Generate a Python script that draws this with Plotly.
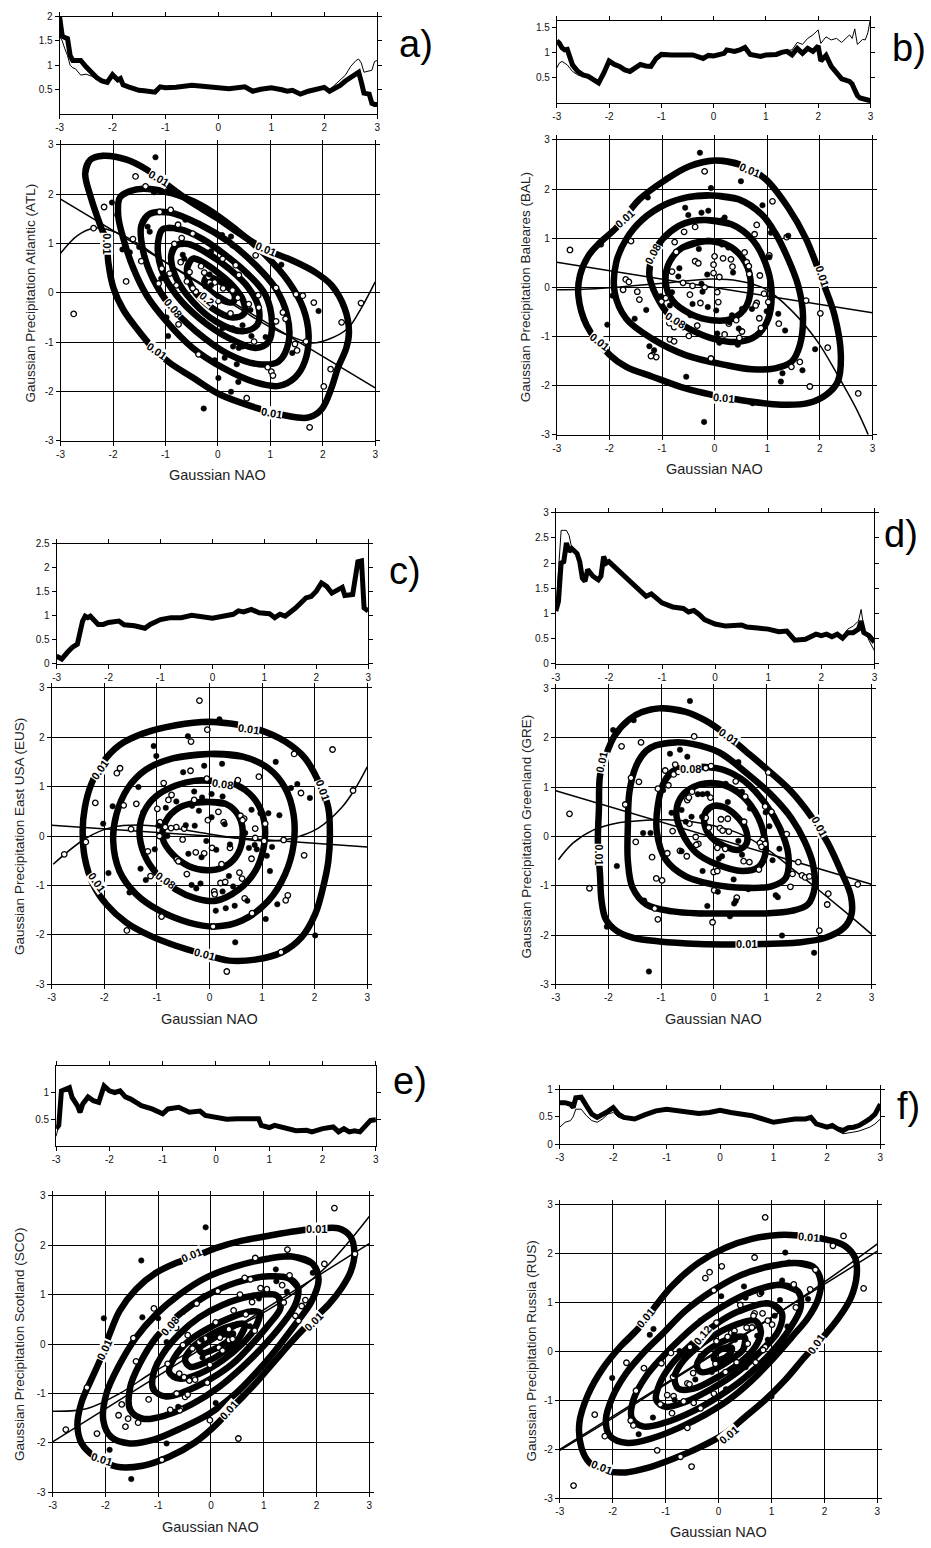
import plotly.graph_objects as go

FONT = "Liberation Sans, Arial, sans-serif"
W, H = 931, 1548

NAO_TICKS = [-3, -2, -1, 0, 1, 2, 3]
NAO_TEXT = ["-3", "-2", "-1", "0", "1", "2", "3"]

# ---------------- panel a (ATL) ----------------
A_TOP_X = [-3,-2.95,-2.9,-2.85,-2.8,-2.75,-2.7,-2.6,-2.5,-2.4,-2.3,-2.2,-2.1,-2.0,-1.9,-1.85,-1.8,-1.7,-1.6,-1.5,
           -1.4,-1.3,-1.2,-1.1,-1.0,-0.8,-0.5,-0.3,0,0.2,0.5,0.65,0.8,1.0,1.2,1.3,1.4,1.55,1.7,1.85,
           2.0,2.1,2.2,2.3,2.4,2.5,2.6,2.65,2.7,2.75,2.85,2.9,2.95,3.0]
A_TOP_THICK = [2.0,1.6,1.57,1.55,1.2,1.1,1.1,1.1,0.97,0.85,0.75,0.68,0.65,0.81,0.70,0.73,0.60,0.56,0.52,0.49,
               0.48,0.47,0.45,0.56,0.54,0.55,0.59,0.57,0.53,0.52,0.56,0.47,0.51,0.54,0.50,0.47,0.49,0.41,0.47,0.50,
               0.55,0.47,0.52,0.59,0.68,0.76,0.83,0.86,0.66,0.43,0.41,0.22,0.20,0.20]
A_TOP_THIN = [1.6,1.5,1.34,1.2,1.0,0.95,0.93,0.80,0.82,0.78,0.72,0.66,0.64,0.80,0.70,0.72,0.60,0.56,0.52,0.49,
              0.48,0.47,0.45,0.56,0.54,0.55,0.59,0.57,0.53,0.52,0.56,0.47,0.51,0.54,0.50,0.47,0.49,0.41,0.47,0.50,
              0.57,0.50,0.60,0.70,0.80,0.98,1.10,1.13,1.05,0.86,0.88,0.90,1.08,1.10]
A_OPEN = [(-1.57,2.36),(-1.38,2.16),(-2.17,1.74),(-2.37,1.31),(-1.11,1.64),(-0.90,1.68),(-0.76,1.38),(-0.48,1.20),
          (-0.69,1.11),(-1.62,1.09),(-1.46,0.64),(-1.75,0.23),(-2.75,-0.43),(-0.83,0.99),(-0.71,0.62),(-0.54,0.42),
          (-0.59,0.23),(-0.32,0.54),(-0.26,0.41),(-0.18,0.32),(-0.06,0.21),(0.10,0.09),(0.28,0.05),(0.01,-0.17),
          (0.24,-0.42),(0.38,-0.10),(0.59,-0.23),(0.78,-0.30),(0.77,-0.05),(1.11,0.10),(1.24,-0.40),(1.29,-0.53),
          (1.49,-0.03),(1.62,-0.06),(1.83,-0.20),(2.73,-0.21),(2.36,-0.60),(1.47,-1.04),(1.51,-1.17),(1.68,-0.99),
          (0.95,-1.51),(1.02,-1.60),(1.05,-1.68),(2.15,-1.55),(2.02,-1.90),(1.75,-2.73),(0.55,-2.14),(-0.37,-1.25),
          (-0.75,-0.64),(0.69,-0.99),(1.11,-0.58),(-1.07,0.49),(-1.13,0.19),(-0.92,0.39),(-0.79,0.15),(-0.42,0.02),
          (-0.29,-0.05),(-0.48,0.09),(0.34,0.56),(0.40,0.36),(0.09,0.69),(0.72,0.76)]
A_FILL = [(-1.19,2.75),(-1.22,2.04),(-2.02,1.83),(-1.92,1.58),(-0.62,1.48),(-1.34,1.34),(-1.30,1.24),(0.25,1.14),
          (0.08,1.17),(-1.50,0.93),(-1.82,0.88),(-1.68,0.82),(-0.67,0.77),(-0.64,0.69),(-0.16,0.37),(0.14,0.22),
          (0.09,-0.72),(0.28,-0.72),(0.62,-0.35),(1.21,0.57),(1.92,-0.37),(1.42,-1.22),(0.25,-2.01),(0.39,-1.81),
          (0.36,-1.45),(0.13,-1.32),(-0.06,-1.37),(0.01,-1.73),(-0.27,-2.35),(-0.95,-0.88),(-0.98,-0.50),
          (-0.29,-0.57),(0.40,-1.12),(0.47,-1.09),(0.29,-1.09),(0.64,-0.88),(0.91,-0.90),(0.47,-0.66),
          (-1.08,0.29),(-0.13,0.15),(0.56,0.38),(0.28,0.96),(-0.13,0.84)]
A_CONTOURS = [
    [(-2.43,2.70),(-2.53,2.43),(-2.43,1.96),(-2.24,1.36),(-2.12,1.03),(-2.09,0.62),(-1.99,0.09),(-1.80,-0.35),
     (-1.55,-0.72),(-1.24,-1.12),(-0.92,-1.42),(-0.48,-1.72),(0.03,-2.06),(0.72,-2.33),(1.29,-2.49),(1.73,-2.53),
     (1.98,-2.36),(2.17,-1.92),(2.29,-1.52),(2.45,-1.12),(2.50,-0.78),(2.42,-0.32),(2.17,0.15),(1.85,0.42),
     (1.41,0.66),(0.91,0.88),(0.47,1.16),(-0.04,1.53),(-0.54,1.86),(-0.98,2.20),(-1.36,2.50),(-1.74,2.70),(-2.18,2.78)],
    [(-1.42,2.11),(-1.68,2.06),(-1.87,1.93),(-1.90,1.56),(-1.80,1.09),(-1.61,0.49),(-1.36,-0.05),(-0.98,-0.58),
     (-0.48,-1.12),(0.09,-1.52),(0.72,-1.82),(1.16,-1.89),(1.47,-1.72),(1.66,-1.39),(1.73,-0.85),(1.63,-0.32),
     (1.35,0.22),(0.91,0.76),(0.34,1.29),(-0.29,1.76),(-0.92,2.03)],
    [(-1.30,1.60),(-1.46,1.36),(-1.42,0.82),(-1.24,0.29),(-0.92,-0.25),(-0.42,-0.78),(0.21,-1.25),(0.78,-1.45),
     (1.16,-1.39),(1.35,-0.99),(1.32,-0.45),(1.10,0.09),(0.72,0.56),(0.21,1.03),(-0.35,1.39),(-0.92,1.63)],
    [(-1.05,1.29),(-1.14,1.03),(-1.08,0.49),(-0.79,-0.05),(-0.35,-0.52),(0.21,-0.92),(0.72,-1.12),(0.97,-0.99),
     (1.03,-0.58),(0.91,-0.05),(0.59,0.36),(0.15,0.76),(-0.29,1.09),(-0.73,1.29)],
    [(-0.79,0.96),(-0.89,0.76),(-0.79,0.29),(-0.48,-0.18),(-0.04,-0.58),(0.47,-0.78),(0.75,-0.65),(0.78,-0.32),
     (0.59,0.09),(0.21,0.49),(-0.23,0.82),(-0.57,0.99)],
    [(-0.48,0.69),(-0.59,0.49),(-0.48,0.09),(-0.10,-0.32),(0.28,-0.50),(0.50,-0.42),(0.48,-0.15),(0.28,0.15),
     (-0.10,0.49),(-0.32,0.64)],
    [(-0.21,0.32),(-0.26,0.19),(-0.13,0.02),(0.09,-0.15),(0.29,-0.19),(0.32,-0.05),(0.16,0.14),(-0.04,0.27)],
]
A_LABELS = [(-1.14,2.32,"0.01",30),(0.91,0.88,"0.01",22),(-2.13,1.0,"0.01",90),(-1.17,-1.19,"0.01",35),
            (1.03,-2.43,"0.01",10),(-0.85,-0.30,"0.08",50),(-0.21,-0.13,"0.2",40)]
A_REG = [(-3,1.90),(3,-1.93)]
A_CUBIC = [(-3,0.80),(-2.68,1.16),(-2.37,1.31),(-2.12,1.29),(-1.80,1.16),(-1.5,0.98),(-1,0.62),(-0.5,0.28),
           (0,-0.05),(0.5,-0.38),(1,-0.70),(1.5,-0.93),(1.8,-1.02),(2.1,-0.95),(2.48,-0.72),(2.73,-0.32),(3,0.22)]

# ---------------- panel b (BAL) ----------------
B_TOP_X = [-3,-2.95,-2.9,-2.85,-2.8,-2.7,-2.6,-2.5,-2.4,-2.3,-2.2,-2.1,-2.0,-1.9,-1.8,-1.7,-1.6,-1.5,-1.4,-1.3,
           -1.2,-1.1,-1.0,-0.8,-0.6,-0.4,-0.2,-0.1,0,0.2,0.25,0.4,0.5,0.6,0.7,0.9,1.0,1.2,1.3,1.4,
           1.5,1.6,1.7,1.8,1.9,2.0,2.05,2.15,2.25,2.35,2.45,2.6,2.65,2.7,2.75,2.8,2.85,2.9,2.95,3.0]
B_TOP_THICK = [1.24,1.19,1.10,1.06,1.07,0.76,0.63,0.56,0.53,0.46,0.40,0.60,0.84,0.77,0.73,0.66,0.63,0.70,0.77,0.74,
               0.73,0.89,0.97,0.96,0.97,0.96,0.89,0.95,0.94,0.99,1.06,1.03,1.06,1.11,0.97,0.93,0.96,0.97,1.01,1.03,
               0.96,1.09,0.99,1.09,1.03,1.14,0.84,0.95,0.73,0.60,0.48,0.43,0.38,0.26,0.15,0.10,0.08,0.08,0.06,0.05]
B_TOP_THIN = [0.70,0.80,0.83,0.80,0.76,0.63,0.56,0.53,0.50,0.45,0.40,0.60,0.84,0.77,0.73,0.66,0.63,0.70,0.77,0.74,
              0.73,0.89,0.97,0.96,0.97,0.96,0.89,0.95,0.94,0.99,1.06,1.03,1.06,1.11,0.97,0.93,0.96,0.98,1.02,1.05,
              1.06,1.21,1.17,1.29,1.36,1.46,1.19,1.32,1.26,1.29,1.21,1.36,1.29,1.48,1.17,1.22,1.27,1.26,1.40,1.68]
B_OPEN = [(-0.19,2.36),(1.10,1.75),(-0.37,1.23),(-0.58,1.13),(0.80,1.27),(0.76,1.08),(1.37,1.02),(-1.59,0.94),
          (-2.75,0.76),(-0.76,0.92),(0.57,0.71),(-0.73,0.72),(-0.37,0.53),(-0.31,0.49),(0.00,0.63),(0.16,0.59),
          (0.31,0.57),(1.04,0.65),(0.61,0.51),(0.65,0.43),(0.34,0.42),(-0.02,0.46),(-0.02,0.29),(0.09,0.21),
          (0.66,0.27),(0.86,0.24),(-1.69,0.16),(-1.63,0.11),(-0.60,0.09),(-0.81,0.32),(-0.42,0.03),(-0.19,0.00),
          (-0.47,-0.15),(0.05,-0.10),(-1.47,-0.09),(-1.43,-0.25),(-1.74,-0.05),(-1.01,-0.29),(-0.93,-0.22),
          (0.07,-0.30),(-0.27,-0.32),(0.94,-0.13),(1.02,-0.30),(0.80,-0.32),(0.78,-0.37),(1.74,-0.27),(2.01,-0.53),
          (-0.33,-0.78),(-0.86,-0.73),(-0.77,-0.81),(-0.61,-0.81),(0.27,-0.74),(0.41,-0.67),(0.85,-0.63),
          (0.88,-0.83),(1.22,-0.74),(0.52,-0.90),(0.19,-0.96),(0.47,-1.03),(-0.49,-0.99),(-0.85,-1.06),
          (-0.77,-1.10),(-1.18,-1.38),(-1.11,-1.42),(-1.21,-1.40),(-0.07,-1.45),(2.15,-1.23),(1.46,-1.62),
          (1.62,-1.52),(1.81,-2.02),(2.73,-2.16)]
B_FILL = [(-0.28,2.74),(0.50,2.16),(-0.07,2.02),(-1.27,1.83),(0.91,1.67),(-0.56,1.62),(-0.12,1.56),(-0.25,1.52),
          (-0.50,1.47),(0.19,1.42),(0.15,1.37),(1.07,1.11),(1.40,1.05),(-2.16,0.87),(0.14,0.87),(0.26,0.81),
          (-0.30,0.78),(1.04,0.61),(0.35,0.30),(-0.67,0.39),(-0.14,0.26),(-0.69,0.22),(-0.25,0.07),(-0.23,-0.09),
          (-1.94,-0.17),(-1.02,-0.18),(-0.81,-0.10),(0.03,-0.47),(-0.42,-0.34),(-0.13,-0.40),(0.99,-0.49),
          (1.21,-0.54),(0.52,-0.44),(0.71,-0.44),(-1.30,-0.46),(-0.85,-0.37),(-1.52,-0.64),(-2.04,-0.76),
          (-0.46,-0.57),(0.28,-0.71),(0.33,-0.57),(1.34,-0.88),(0.46,-0.84),(0.05,-0.94),(0.09,-1.13),(0.44,-1.17),
          (-1.24,-1.20),(-1.15,-1.28),(-0.54,-1.82),(1.91,-1.26),(1.67,-1.69),(1.29,-1.75),(1.26,-1.92),
          (0.72,-2.36),(-0.20,-2.74)]
B_CONTOURS = [
    [(0.00,2.58),(0.51,2.49),(0.96,2.21),(1.40,1.62),(1.74,0.98),(2.06,0.10),(2.28,-0.57),(2.40,-1.38),
     (2.34,-1.92),(2.12,-2.19),(1.77,-2.36),(1.27,-2.39),(0.46,-2.29),(-0.05,-2.19),(-0.55,-2.06),(-1.18,-1.82),
     (-1.68,-1.62),(-1.99,-1.38),(-2.43,-0.78),(-2.59,-0.17),(-2.56,0.24),(-2.40,0.64),(-2.18,0.91),(-1.87,1.21),
     (-1.43,1.79),(-0.93,2.19),(-0.49,2.46)],
    [(-0.05,1.87),(0.46,1.79),(0.90,1.48),(1.15,1.11),(1.40,0.57),(1.59,0.03),(1.68,-0.57),(1.62,-1.18),
     (1.46,-1.52),(1.15,-1.65),(0.71,-1.67),(0.20,-1.58),(-0.55,-1.38),(-1.18,-1.05),(-1.68,-0.64),(-1.90,-0.10),
     (-1.87,0.51),(-1.68,0.98),(-1.37,1.38),(-0.93,1.69),(-0.49,1.84)],
    [(-0.17,1.37),(0.33,1.28),(0.71,0.98),(0.96,0.51),(1.08,-0.03),(1.02,-0.64),(0.80,-0.98),(0.46,-1.11),
     (0.02,-1.06),(-0.49,-0.84),(-0.86,-0.57),(-1.11,-0.17),(-1.24,0.24),(-1.18,0.64),(-0.99,0.98),(-0.68,1.25),
     (-0.42,1.35)],
    [(-0.17,0.94),(0.20,0.88),(0.52,0.61),(0.68,0.17),(0.61,-0.37),(0.33,-0.64),(-0.05,-0.67),(-0.46,-0.54),
     (-0.80,-0.27),(-0.93,0.10),(-0.86,0.51),(-0.61,0.81)],
]
B_LABELS = [(0.66,2.38,"0.01",22),(-1.72,1.40,"0.01",-42),(2.04,0.22,"0.01",72),(-2.18,-1.11,"0.01",38),
            (0.17,-2.25,"0.01",5),(-1.18,0.68,"0.08",-62),(-0.75,-0.66,"0.08",32)]
B_REG = [(-3,0.51),(3,-0.52)]
B_CUBIC = [(-3,-0.05),(-2.5,-0.04),(-2.0,-0.01),(-1.55,0.03),(-0.93,0.09),(-0.05,0.17),(0.46,0.13),(0.96,-0.03),
           (1.46,-0.47),(1.96,-1.11),(2.34,-1.79),(2.72,-2.53),(2.92,-3.0)]

# ---------------- panel c (EUS) ----------------
C_TOP_X = [-3,-2.9,-2.8,-2.7,-2.6,-2.5,-2.45,-2.4,-2.35,-2.2,-2.1,-2.0,-1.8,-1.7,-1.5,-1.3,-1.2,-1.0,-0.8,-0.6,
           -0.4,-0.2,0,0.2,0.4,0.5,0.6,0.75,0.9,1.1,1.2,1.3,1.4,1.6,1.8,1.9,2.0,2.1,2.2,2.3,
           2.4,2.5,2.55,2.7,2.8,2.87,2.92,3.0]
C_TOP_THICK = [0.16,0.10,0.23,0.34,0.41,0.89,0.99,0.96,0.99,0.82,0.82,0.86,0.89,0.81,0.79,0.74,0.82,0.92,0.96,0.96,
               1.01,0.97,0.95,0.99,1.03,1.10,1.08,1.13,1.06,1.04,0.96,1.03,0.99,1.16,1.37,1.40,1.51,1.68,1.61,1.47,
               1.54,1.59,1.42,1.44,2.12,2.14,1.16,1.10]
C_TOP_THIN = [0.20,0.12,0.23,0.34,0.41,0.89,0.99,0.96,0.99,0.82,0.82,0.86,0.89,0.81,0.79,0.74,0.82,0.92,0.96,0.96,
              1.01,0.97,0.95,0.99,1.03,1.10,1.08,1.13,1.06,1.04,0.96,1.03,0.99,1.16,1.37,1.40,1.51,1.68,1.61,1.47,
              1.54,1.59,1.42,1.44,2.12,2.14,1.16,1.10]
C_OPEN = [(-0.19,2.74),(-0.04,2.15),(-0.35,1.91),(1.61,1.66),(2.34,1.75),(-1.70,1.37),(-1.76,1.27),(-0.36,1.32),
          (-0.05,1.16),(0.54,1.13),(-0.87,1.07),(0.94,1.20),(1.74,0.87),(2.73,0.92),(-2.17,0.67),(-1.63,0.62),
          (-1.39,0.65),(-0.72,0.83),(-0.78,0.73),(-0.99,0.55),(-0.29,0.73),(0.17,0.49),(0.59,0.41),(0.66,0.35),
          (0.63,0.32),(-0.03,0.32),(0.27,0.28),(-1.49,0.14),(-0.94,0.28),(-0.84,0.18),(-0.63,0.18),(-0.48,0.15),
          (-0.73,0.16),(-0.95,0.00),(-0.51,-0.07),(0.87,0.15),(1.06,0.25),(0.87,-0.04),(1.04,-0.10),(0.39,-0.24),
          (1.41,-0.08),(-2.35,-0.12),(-2.76,-0.37),(-1.17,-0.31),(-0.26,-0.33),(-0.10,-0.35),(0.05,-0.24),
          (-0.62,-0.47),(-0.59,-0.51),(0.23,-0.57),(0.57,-0.74),(0.62,-0.86),(0.80,-0.46),(1.80,-0.39),
          (-1.12,-0.81),(-0.43,-0.77),(0.21,-0.95),(0.30,-0.93),(0.09,-1.12),(0.10,-1.18),(0.67,-1.26),
          (0.81,-1.56),(1.49,-1.20),(1.45,-1.30),(-0.91,-1.63),(-1.57,-1.91),(0.07,-1.83),(1.36,-2.35),(0.33,-2.74)]
C_FILL = [(0.19,2.36),(-0.41,2.02),(-1.06,1.82),(-1.01,1.62),(1.26,1.50),(0.24,1.46),(-0.10,1.42),(-0.50,1.29),
          (-1.35,0.99),(1.55,0.97),(1.67,1.05),(1.91,0.77),(-1.84,0.60),(-0.29,0.90),(-0.14,0.78),(-0.63,0.70),
          (-0.83,0.57),(-0.33,0.61),(0.04,0.85),(0.25,0.80),(-0.20,0.51),(0.80,0.53),(1.12,0.46),(1.33,0.42),
          (0.04,0.38),(-2.02,0.25),(-1.26,0.48),(-0.97,0.21),(-0.45,0.22),(-0.28,0.21),(-0.80,0.00),(-0.06,-0.10),
          (0.29,0.24),(0.68,0.06),(0.97,0.46),(0.86,-0.18),(0.75,-0.24),(0.39,-0.17),(1.19,-0.22),(-1.04,-0.27),
          (-0.40,-0.36),(0.13,-0.28),(-0.15,-0.43),(0.40,-0.54),(0.37,-0.81),(1.09,-0.40),(0.90,-0.27),
          (1.15,-0.71),(-1.92,-0.75),(-1.31,-0.66),(-1.21,-0.89),(-0.34,-0.99),(-0.17,-0.96),(0.45,-1.02),
          (0.25,-1.12),(-0.25,-1.06),(0.72,-1.31),(0.12,-1.51),(0.31,-1.46),(0.48,-1.41),(1.29,-1.38),
          (1.07,-1.68),(-1.52,-1.14),(0.49,-2.15),(2.01,-2.01)]
C_CONTOURS = [
    [(0.49,2.26),(0.94,2.15),(1.44,1.91),(1.82,1.57),(2.13,0.97),(2.26,0.57),(2.29,0.03),(2.26,-0.51),
     (2.16,-1.04),(2.01,-1.58),(1.75,-2.05),(1.38,-2.35),(0.87,-2.50),(0.37,-2.52),(-0.14,-2.38),(-0.64,-2.22),
     (-1.14,-2.01),(-1.58,-1.75),(-1.96,-1.38),(-2.21,-0.98),(-2.37,-0.44),(-2.41,0.10),(-2.37,0.57),
     (-2.25,1.04),(-2.02,1.50),(-1.71,1.84),(-1.27,2.07),(-0.64,2.24),(-0.01,2.31)],
    [(-0.01,1.66),(0.62,1.61),(1.12,1.37),(1.44,0.97),(1.60,0.43),(1.60,-0.17),(1.44,-0.77),(1.12,-1.31),
     (0.62,-1.71),(0.12,-1.83),(-0.39,-1.75),(-0.95,-1.51),(-1.39,-1.18),(-1.71,-0.71),(-1.83,-0.10),
     (-1.77,0.43),(-1.55,0.97),(-1.21,1.34),(-0.70,1.57)],
    [(-0.01,1.12),(0.37,1.09),(0.68,0.93),(0.93,0.63),(1.05,0.23),(1.03,-0.24),(0.87,-0.71),(0.56,-1.08),
     (0.12,-1.31),(-0.26,-1.26),(-0.64,-1.08),(-1.02,-0.74),(-1.24,-0.37),(-1.33,0.10),(-1.24,0.50),
     (-1.02,0.80),(-0.64,1.02),(-0.26,1.12)],
    [(-0.01,0.69),(0.31,0.65),(0.56,0.40),(0.63,-0.04),(0.49,-0.44),(0.24,-0.64),(-0.04,-0.69),(-0.39,-0.61),
     (-0.70,-0.37),(-0.89,-0.04),(-0.83,0.30),(-0.58,0.57),(-0.29,0.67)],
]
C_LABELS = [(0.74,2.17,"0.01",8),(2.16,0.94,"0.01",70),(-2.09,1.34,"0.01",-55),(-2.15,-0.94,"0.01",55),
            (-0.10,-2.38,"0.01",15),(0.24,1.06,"0.08",8),(-0.84,-0.89,"0.08",35)]
C_REG = [(-3,0.22),(3,-0.22)]
C_CUBIC = [(-2.97,-0.57),(-2.34,-0.04),(-1.84,0.18),(-1.27,0.22),(-0.64,0.15),(-0.01,0.04),(0.62,-0.06),
           (1.12,-0.10),(1.56,-0.05),(2.07,0.16),(2.51,0.57),(2.76,0.94),(3.0,1.40)]

# ---------------- panel d (GRE) ----------------
D_TOP_X = [-3,-2.95,-2.9,-2.85,-2.8,-2.75,-2.7,-2.6,-2.55,-2.5,-2.45,-2.4,-2.3,-2.2,-2.15,-2.1,-2.05,-2.0,-1.9,-1.8,
           -1.6,-1.4,-1.3,-1.2,-1.0,-0.8,-0.6,-0.5,-0.4,-0.3,-0.2,0,0.2,0.5,0.6,0.8,1.0,1.2,1.35,1.5,
           1.7,1.9,2.0,2.1,2.2,2.3,2.4,2.5,2.6,2.7,2.75,2.8,2.9,3.0]
D_TOP_THICK = [1.05,1.24,2.00,2.03,2.40,2.23,2.29,2.19,2.03,1.70,1.64,1.87,1.74,1.67,1.74,2.13,2.00,2.03,1.93,1.83,
               1.64,1.44,1.34,1.39,1.21,1.13,1.10,1.03,1.06,0.98,0.88,0.79,0.75,0.77,0.73,0.71,0.69,0.64,0.65,0.47,
               0.49,0.59,0.56,0.59,0.54,0.59,0.51,0.62,0.62,0.69,0.85,0.62,0.56,0.43]
D_TOP_THIN = [1.05,1.90,2.65,2.65,2.65,2.55,2.30,2.19,2.03,1.70,1.64,1.87,1.74,1.67,1.74,2.13,2.00,2.03,1.93,1.83,
              1.64,1.44,1.34,1.39,1.21,1.13,1.10,1.03,1.06,0.98,0.88,0.79,0.75,0.77,0.73,0.71,0.69,0.64,0.65,0.47,
              0.49,0.59,0.56,0.59,0.54,0.59,0.55,0.69,0.75,0.85,1.08,0.72,0.46,0.26]
D_OPEN = [(-0.37,2.03),(-1.75,1.83),(-1.38,1.91),(-0.73,1.46),(-0.92,1.34),(-0.76,1.26),(-0.56,1.36),(-0.67,1.31),
          (-0.05,1.43),(-0.15,1.39),(1.04,1.30),(-1.57,1.19),(-1.42,1.11),(-1.06,0.97),(-0.86,1.04),(0.42,1.12),
          (-0.41,0.91),(0.60,0.81),(-0.50,0.74),(-0.47,0.79),(-0.06,0.79),(-1.68,0.65),(0.98,0.61),(1.10,0.50),
          (-0.15,0.38),(0.14,0.35),(0.27,0.36),(0.58,0.30),(-2.74,0.46),(-0.46,0.26),(1.39,0.05),(-0.09,0.18),
          (0.12,0.17),(0.29,0.10),(0.17,0.12),(-0.78,0.11),(-0.34,-0.01),(-1.48,-0.11),(0.93,-0.07),(0.88,-0.13),
          (0.98,-0.15),(0.91,-0.21),(-0.29,-0.15),(-0.33,-0.17),(0.07,-0.23),(0.22,-0.25),(-0.88,-0.34),
          (-0.64,-0.29),(-0.51,-0.40),(-1.17,-0.42),(0.57,-0.50),(0.68,-0.52),(1.61,-0.52),(1.50,-0.76),
          (1.68,-0.79),(1.74,-0.83),(1.82,-0.81),(0.00,-0.72),(0.07,-0.70),(0.86,-0.67),(-1.09,-0.85),
          (-0.98,-0.89),(2.74,-0.97),(1.46,-1.02),(0.01,-1.09),(0.44,-1.24),(2.18,-1.16),(2.16,-1.38),
          (-2.36,-1.05),(-1.12,-1.46),(-1.06,-1.68),(-0.02,-1.74),(2.01,-1.91)]
D_FILL = [(-0.45,2.75),(-1.91,2.16),(-1.52,2.36),(0.47,1.51),(-0.64,1.76),(-0.50,1.62),(-0.83,1.68),(-0.96,0.94),
          (0.23,1.07),(-0.30,0.86),(-0.21,0.86),(-0.12,0.87),(0.54,0.91),(-0.61,0.54),(-0.80,0.48),(0.27,0.70),
          (0.69,0.57),(0.99,0.49),(-0.42,0.40),(-0.22,0.40),(-0.53,0.30),(1.06,0.21),(-1.20,0.07),(-1.34,0.07),
          (0.47,-0.09),(1.25,-0.25),(0.54,-0.37),(-0.61,-0.30),(1.12,-0.48),(0.10,-0.45),(0.16,-0.40),
          (-1.84,-0.60),(-0.21,-0.70),(0.38,-0.87),(0.08,-1.12),(0.66,-1.07),(1.18,-1.19),(1.22,-1.23),
          (0.42,-1.31),(0.39,-1.36),(-1.32,-1.30),(-0.12,-1.41),(-0.23,-1.56),(0.31,-1.62),(-2.03,-1.83),
          (1.30,-2.01),(1.91,-2.36),(-1.23,-2.74)]
D_CONTOURS = [
    [(-1.03,2.60),(-0.53,2.53),(-0.15,2.35),(0.22,2.08),(0.60,1.74),(1.04,1.34),(1.48,0.91),(1.86,0.40),
     (2.17,-0.13),(2.42,-0.70),(2.61,-1.21),(2.62,-1.58),(2.48,-1.85),(2.11,-2.06),(1.60,-2.15),(0.98,-2.18),
     (0.35,-2.19),(-0.28,-2.18),(-1.03,-2.13),(-1.54,-2.05),(-1.85,-1.91),(-2.05,-1.68),(-2.13,-1.31),
     (-2.16,-0.77),(-2.20,-0.10),(-2.18,0.57),(-2.16,1.24),(-2.05,1.64),(-1.88,2.05),(-1.60,2.38),(-1.35,2.53)],
    [(-1.10,1.85),(-0.72,1.91),(-0.41,1.88),(0.10,1.71),(0.60,1.31),(1.10,0.84),(1.48,0.37),(1.73,-0.10),
     (1.89,-0.57),(1.92,-1.04),(1.79,-1.38),(1.48,-1.51),(0.98,-1.56),(0.35,-1.56),(-0.28,-1.56),(-0.78,-1.52),
     (-1.28,-1.38),(-1.54,-1.04),(-1.63,-0.50),(-1.63,0.23),(-1.60,0.91),(-1.47,1.44),(-1.28,1.74)],
    [(-0.72,1.36),(-0.15,1.41),(0.22,1.34),(0.60,1.11),(0.98,0.67),(1.26,0.17),(1.42,-0.37),(1.37,-0.84),
     (1.10,-1.01),(0.60,-1.04),(-0.03,-0.97),(-0.53,-0.81),(-0.91,-0.47),(-1.08,0.10),(-1.06,0.64),(-0.94,1.11)],
    [(-0.28,1.05),(0.10,1.07),(0.47,0.89),(0.79,0.50),(0.96,0.03),(0.98,-0.37),(0.85,-0.62),(0.54,-0.70),
     (0.07,-0.57),(-0.34,-0.32),(-0.61,0.10),(-0.71,0.50),(-0.59,0.84)],
    [(0.00,0.62),(0.19,0.60),(0.41,0.44),(0.60,0.17),(0.63,-0.13),(0.47,-0.27),(0.22,-0.20),(-0.03,-0.03),
     (-0.17,0.23),(-0.15,0.50)],
]
D_LABELS = [(0.29,2.02,"0.01",35),(2.02,0.20,"0.01",62),(-2.14,1.50,"0.01",-78),(-2.17,-0.37,"0.01",90),
            (0.62,-2.19,"0.01",0),(-0.44,1.38,"0.08",0)]
D_REG = [(-3,0.93),(3,-0.97)]
D_CUBIC = [(-2.95,-0.47),(-2.67,-0.13),(-2.29,0.13),(-1.85,0.27),(-1.41,0.32),(-0.91,0.34),(-0.41,0.30),
           (0.00,0.22),(0.47,0.07),(0.98,-0.23),(1.48,-0.64),(1.98,-1.07),(2.48,-1.51),(3.00,-1.98)]

# ---------------- panel e (SCO) ----------------
E_TOP_X = [-3,-2.95,-2.9,-2.8,-2.75,-2.7,-2.6,-2.55,-2.5,-2.4,-2.3,-2.2,-2.1,-2.0,-1.9,-1.8,-1.7,-1.6,-1.4,-1.2,
           -1.0,-0.9,-0.7,-0.5,-0.3,-0.2,0,0.2,0.4,0.8,0.85,1.0,1.1,1.3,1.5,1.7,1.8,2.0,2.2,2.3,
           2.4,2.5,2.6,2.7,2.8,2.9,3.0]
E_TOP_THICK = [0.34,0.40,1.03,1.06,1.09,0.91,0.76,0.64,0.79,0.92,0.85,0.82,1.12,1.03,1.00,1.03,0.92,0.88,0.76,0.70,
               0.61,0.70,0.73,0.64,0.66,0.58,0.55,0.51,0.52,0.52,0.40,0.36,0.40,0.34,0.30,0.31,0.28,0.34,0.37,0.28,
               0.34,0.28,0.30,0.28,0.37,0.49,0.50]
E_TOP_THIN = [0.20,0.40,1.00,1.03,1.05,0.88,0.74,0.62,0.77,0.90,0.85,0.82,1.12,1.03,1.00,1.03,0.92,0.88,0.76,0.70,
              0.61,0.70,0.73,0.64,0.66,0.58,0.55,0.51,0.52,0.52,0.40,0.36,0.40,0.34,0.30,0.31,0.28,0.34,0.37,0.28,
              0.34,0.28,0.30,0.28,0.37,0.49,0.50]
E_OPEN = [(2.34,2.75),(1.45,1.91),(0.84,1.74),(2.73,1.82),(2.15,1.62),(1.49,1.39),(0.64,1.34),(0.75,1.31),
          (1.35,1.19),(0.13,1.07),(0.94,1.13),(1.06,1.11),(0.55,1.00),(0.78,0.85),(1.38,0.84),(1.79,0.89),
          (-1.08,0.72),(-0.27,0.82),(0.43,0.68),(0.66,0.60),(1.72,0.77),(1.60,0.57),(1.66,0.47),(-0.66,0.33),
          (-0.44,0.18),(0.09,0.44),(0.34,0.30),(-1.47,0.12),(-0.53,-0.02),(-0.22,0.04),(-0.11,0.11),(0.17,0.13),
          (0.34,0.08),(0.41,0.10),(-0.35,-0.09),(0.15,-0.07),(0.22,-0.13),(-1.42,-0.35),(-0.02,-0.42),
          (-0.82,-0.40),(-0.60,-0.60),(-0.51,-0.67),(-0.32,-0.69),(-0.30,-0.72),(-0.07,-0.78),(-2.35,-0.88),
          (-1.18,-1.12),(-0.65,-1.00),(-0.49,-1.07),(-0.44,-1.02),(-0.57,-1.31),(-0.77,-1.33),(-1.69,-1.22),
          (-1.75,-1.44),(-1.57,-1.51),(-1.62,-1.67),(-1.38,-1.59),(-0.59,-1.34),(-0.02,-1.54),(-2.16,-1.81),
          (-2.75,-1.73),(0.52,-1.91),(-0.93,-2.34),(-0.41,-0.74),(0.83,0.27)]
E_FILL = [(-0.10,2.36),(-1.32,1.69),(1.23,1.51),(1.93,1.44),(1.24,1.27),(-0.13,0.97),(0.91,0.92),(1.44,1.06),
          (-2.03,0.52),(-1.30,0.54),(-0.53,0.65),(-1.00,0.52),(0.00,0.34),(-0.18,0.09),(-0.22,-0.11),(-0.16,-0.27),
          (-0.84,0.04),(-1.02,-0.39),(-1.09,-0.89),(-0.62,-1.27),(0.09,-1.19),(-0.84,-2.01),(-1.92,-2.14),
          (-1.51,-2.73),(0.74,0.36),(0.50,0.40)]
E_CONTOURS = [
    [(-0.35,1.75),(0.09,1.94),(0.59,2.09),(1.10,2.19),(1.60,2.28),(2.10,2.34),(2.42,2.34),(2.64,2.18),
     (2.72,1.84),(2.65,1.47),(2.48,1.14),(2.23,0.80),(1.91,0.47),(1.60,0.13),(1.22,-0.33),(0.84,-0.80),
     (0.47,-1.21),(0.09,-1.64),(-0.29,-1.98),(-0.79,-2.28),(-1.29,-2.46),(-1.79,-2.48),(-2.20,-2.28),
     (-2.45,-2.01),(-2.53,-1.64),(-2.45,-1.17),(-2.26,-0.70),(-2.08,-0.27),(-1.92,0.20),(-1.73,0.67),
     (-1.42,1.11),(-1.04,1.44),(-0.66,1.64)],
    [(1.54,1.77),(1.91,1.64),(2.04,1.31),(1.91,0.87),(1.60,0.40),(1.22,-0.13),(0.84,-0.60),(0.47,-1.00),
     (-0.03,-1.41),(-0.54,-1.69),(-1.10,-1.94),(-1.54,-2.01),(-1.89,-1.88),(-2.04,-1.54),(-1.98,-1.00),
     (-1.76,-0.47),(-1.42,0.13),(-1.04,0.60),(-0.60,1.00),(-0.10,1.34),(0.47,1.57),(1.10,1.73)],
    [(1.47,1.33),(1.65,1.14),(1.60,0.80),(1.35,0.40),(0.97,-0.07),(0.59,-0.47),(0.15,-0.87),(-0.35,-1.21),
     (-0.85,-1.44),(-1.29,-1.51),(-1.53,-1.33),(-1.53,-0.87),(-1.35,-0.40),(-1.04,0.13),(-0.60,0.60),
     (-0.10,0.97),(0.47,1.24),(1.10,1.37)],
    [(1.25,0.98),(1.32,0.74),(1.10,0.40),(0.78,0.00),(0.41,-0.40),(-0.03,-0.72),(-0.47,-0.95),(-0.85,-1.06),
     (-1.09,-0.92),(-1.09,-0.60),(-0.91,-0.20),(-0.60,0.20),(-0.22,0.54),(0.22,0.79),(0.72,0.96)],
    [(0.92,0.64),(0.84,0.33),(0.59,0.00),(0.22,-0.33),(-0.22,-0.60),(-0.60,-0.70),(-0.79,-0.57),(-0.69,-0.27),
     (-0.41,0.07),(-0.03,0.33),(0.41,0.55),(0.75,0.66)],
    [(0.64,0.40),(0.54,0.13),(0.28,-0.13),(-0.10,-0.37),(-0.39,-0.46),(-0.49,-0.32),(-0.35,-0.07),(-0.03,0.17),
     (0.34,0.35)],
    [(0.42,0.21),(0.33,0.07),(0.09,-0.09),(-0.16,-0.18),(-0.22,-0.10),(-0.10,0.05),(0.17,0.18)],
]
E_LABELS = [(-0.36,1.80,"0.01",-22),(2.01,2.32,"0.01",0),(1.94,0.45,"0.01",-45),(0.34,-1.33,"0.01",-48),
            (-2.08,-2.33,"0.01",18),(-2.02,-0.12,"0.01",-65),(-0.78,0.37,"0.08",-50)]
E_REG = [(-3,-1.98),(3,2.03)]
E_CUBIC = [(-3,-1.36),(-2.36,-1.31),(-1.73,-1.00),(-1.10,-0.57),(-0.47,-0.20),(-0.03,0.07),(0.47,0.33),
           (1.10,0.70),(1.72,1.14),(2.23,1.61),(2.67,2.14),(3.0,2.58)]

# ---------------- panel f (RUS) ----------------
F_TOP_X = [-3,-2.9,-2.8,-2.75,-2.7,-2.6,-2.5,-2.4,-2.3,-2.2,-2.1,-2.0,-1.9,-1.8,-1.6,-1.4,-1.2,-1.0,-0.8,-0.6,
           -0.4,-0.2,0,0.2,0.4,0.6,0.8,1.0,1.2,1.4,1.6,1.7,1.8,1.9,2.0,2.1,2.2,2.3,2.4,2.5,
           2.6,2.7,2.8,2.9,3.0]
F_TOP_THICK = [0.76,0.76,0.73,0.67,0.85,0.86,0.70,0.55,0.49,0.54,0.60,0.67,0.55,0.49,0.46,0.54,0.61,0.64,0.62,0.60,
               0.56,0.58,0.62,0.58,0.55,0.52,0.46,0.40,0.43,0.46,0.46,0.49,0.37,0.34,0.31,0.34,0.28,0.25,0.30,0.31,
               0.34,0.40,0.46,0.55,0.73]
F_TOP_THIN = [0.31,0.40,0.43,0.50,0.64,0.64,0.52,0.43,0.40,0.46,0.55,0.58,0.49,0.46,0.45,0.53,0.60,0.63,0.61,0.59,
              0.55,0.57,0.61,0.57,0.54,0.51,0.45,0.39,0.42,0.45,0.45,0.48,0.36,0.33,0.30,0.31,0.24,0.19,0.20,0.22,
              0.24,0.28,0.31,0.37,0.46]
F_OPEN = [(0.88,2.74),(2.36,2.36),(2.16,2.16),(0.68,1.92),(0.06,1.74),(1.83,1.67),(-0.17,1.62),(-0.25,1.50),
          (1.42,1.37),(2.74,1.29),(1.73,1.27),(-0.09,1.25),(0.78,1.18),(1.46,0.90),(0.41,0.95),(0.68,0.78),
          (0.66,0.73),(0.83,0.78),(1.01,0.55),(0.93,0.63),(0.63,0.49),(0.53,0.49),(-0.04,0.59),(0.24,0.38),
          (0.30,0.42),(0.55,0.16),(0.88,0.09),(0.84,0.03),(-0.04,0.21),(-0.54,0.09),(-0.90,-0.03),(-1.08,-0.24),
          (-1.41,-0.34),(-1.74,-0.23),(-0.06,-0.25),(0.34,-0.22),(0.13,-0.42),(0.70,-0.22),(-0.48,-0.44),
          (-0.59,-0.65),(-0.55,-0.67),(-0.86,-0.52),(-1.56,-0.80),(-0.97,-0.89),(-0.85,-0.91),(-0.66,-1.02),
          (-0.47,-1.05),(-0.34,-1.16),(-1.10,-1.08),(-0.88,-1.26),(-0.09,-0.86),(-0.59,-1.56),(-1.66,-1.41),
          (-1.61,-1.51),(-2.34,-1.29),(-2.15,-1.73),(-1.16,-2.02),(-0.72,-2.15),(-0.51,-2.35),(-2.74,-2.74),
          (0.17,0.30)]
F_FILL = [(1.26,2.02),(1.33,1.82),(1.20,1.45),(0.48,1.33),(0.05,1.13),(0.81,1.20),(0.51,1.10),(1.69,1.07),
          (1.16,1.05),(1.06,0.73),(1.30,0.51),(-1.23,0.46),(-1.30,0.34),(-0.34,0.63),(0.29,0.34),(0.73,0.32),
          (0.93,0.24),(-0.74,0.01),(-0.34,-0.09),(0.51,-0.32),(-0.13,-0.42),(-0.44,-0.57),(-0.83,-0.47),
          (-0.83,-0.99),(0.14,-0.77),(1.00,-0.92),(-1.24,-1.35),(-1.51,-1.69),(-2.01,-0.54),(-1.91,-1.83),
          (0.31,0.24)]
F_CONTOURS = [
    [(-1.50,0.49),(-1.19,0.93),(-0.88,1.34),(-0.38,1.81),(0.13,2.12),(0.63,2.30),(1.13,2.38),(1.50,2.37),
     (2.06,2.28),(2.38,2.16),(2.58,1.91),(2.61,1.57),(2.50,1.10),(2.25,0.66),(1.97,0.29),(1.63,-0.11),
     (1.25,-0.59),(0.88,-0.99),(0.50,-1.34),(0.13,-1.67),(-0.38,-1.97),(-0.88,-2.20),(-1.38,-2.39),
     (-1.75,-2.47),(-2.13,-2.44),(-2.44,-2.27),(-2.59,-1.97),(-2.63,-1.46),(-2.47,-0.89),(-2.19,-0.35),
     (-1.84,0.12)],
    [(1.44,1.81),(1.78,1.74),(1.93,1.44),(1.88,1.07),(1.69,0.69),(1.38,0.29),(1.00,-0.18),(0.63,-0.59),
     (0.19,-0.99),(-0.25,-1.29),(-0.75,-1.56),(-1.25,-1.77),(-1.72,-1.87),(-2.05,-1.73),(-2.13,-1.40),
     (-2.00,-0.92),(-1.75,-0.45),(-1.44,-0.05),(-1.06,0.36),(-0.63,0.83),(-0.13,1.23),(0.38,1.54),(0.88,1.72)],
    [(1.19,1.36),(1.50,1.23),(1.55,0.90),(1.34,0.46),(0.97,-0.05),(0.50,-0.53),(0.00,-0.92),(-0.50,-1.23),
     (-1.00,-1.45),(-1.43,-1.53),(-1.64,-1.36),(-1.61,-0.99),(-1.38,-0.52),(-1.06,-0.11),(-0.69,0.29),
     (-0.25,0.69),(0.25,1.03),(0.75,1.27)],
    [(0.95,0.98),(1.19,0.80),(1.13,0.42),(0.81,0.02),(0.38,-0.40),(-0.13,-0.76),(-0.63,-1.03),(-1.00,-1.13),
     (-1.18,-0.99),(-1.11,-0.65),(-0.88,-0.25),(-0.50,0.16),(-0.06,0.55),(0.38,0.82)],
    [(0.69,0.63),(0.80,0.41),(0.69,0.09),(0.38,-0.25),(-0.06,-0.55),(-0.47,-0.76),(-0.76,-0.76),(-0.83,-0.52),
     (-0.66,-0.18),(-0.31,0.16),(0.06,0.42),(0.44,0.59)],
    [(0.49,0.29),(0.47,0.05),(0.25,-0.15),(-0.06,-0.35),(-0.33,-0.42),(-0.41,-0.28),(-0.28,-0.05),(0.00,0.16),
     (0.28,0.28)],
    [(0.25,0.07),(0.20,-0.06),(0.03,-0.17),(-0.09,-0.15),(-0.05,-0.03),(0.11,0.07)],
]
F_LABELS = [(-1.38,0.68,"0.01",-50),(1.69,2.33,"0.01",5),(1.84,0.16,"0.01",-55),(0.19,-1.70,"0.01",-40),
            (-2.22,-2.36,"0.01",22),(-0.30,0.33,"0.12",-50)]
F_REG = [(-3,-2.0),(3,2.05)]
F_CUBIC = [(-3,-2.02),(-2,-1.36),(-1,-0.67),(0,0.0),(1,0.69),(2,1.42),(3,2.2)]

PANELS = [
    dict(key="a", ylabel="Gaussian Precipitation Atlantic (ATL)", tx=A_TOP_X, thick=A_TOP_THICK, thin=A_TOP_THIN,
         opn=A_OPEN, fil=A_FILL, cont=A_CONTOURS, labels=A_LABELS, reg=A_REG, cub=A_CUBIC),
    dict(key="b", ylabel="Gaussian Precipitation Baleares (BAL)", tx=B_TOP_X, thick=B_TOP_THICK, thin=B_TOP_THIN,
         opn=B_OPEN, fil=B_FILL, cont=B_CONTOURS, labels=B_LABELS, reg=B_REG, cub=B_CUBIC),
    dict(key="c", ylabel="Gaussian Precipitation East USA (EUS)", tx=C_TOP_X, thick=C_TOP_THICK, thin=C_TOP_THIN,
         opn=C_OPEN, fil=C_FILL, cont=C_CONTOURS, labels=C_LABELS, reg=C_REG, cub=C_CUBIC),
    dict(key="d", ylabel="Gaussian Precipitation Greenland (GRE)", tx=D_TOP_X, thick=D_TOP_THICK, thin=D_TOP_THIN,
         opn=D_OPEN, fil=D_FILL, cont=D_CONTOURS, labels=D_LABELS, reg=D_REG, cub=D_CUBIC),
    dict(key="e", ylabel="Gaussian Precipitation Scotland (SCO)", tx=E_TOP_X, thick=E_TOP_THICK, thin=E_TOP_THIN,
         opn=E_OPEN, fil=E_FILL, cont=E_CONTOURS, labels=E_LABELS, reg=E_REG, cub=E_CUBIC),
    dict(key="f", ylabel="Gaussian Precipitation Russia (RUS)", tx=F_TOP_X, thick=F_TOP_THICK, thin=F_TOP_THIN,
         opn=F_OPEN, fil=F_FILL, cont=F_CONTOURS, labels=F_LABELS, reg=F_REG, cub=F_CUBIC),
]

# layout geometry in pixels (left, right, top, bottom)
GEOM = {
    "a": dict(top=(56, 376, 10.7, 109), sc=(57, 374, 140, 438), yr=(0, 2), yt=[0.5, 1, 1.5, 2],
              letter=(415, 38), ytx=27, xty=473),
    "b": dict(top=(557, 873, 15, 97.7), sc=(557, 875, 135, 432), yr=(0, 1.64), yt=[0.5, 1, 1.5],
              letter=(912, 42), ytx=525, xty=467),
    "c": dict(top=(53, 367, 541.7, 663), sc=(48, 366, 687, 986), yr=(0, 2.5), yt=[0, 0.5, 1, 1.5, 2, 2.5],
              letter=(404, 569), ytx=15, xty=1021),
    "d": dict(top=(556, 877, 510.7, 663), sc=(556, 874, 688, 986), yr=(0, 3), yt=[0, 0.5, 1, 1.5, 2, 2.5, 3],
              letter=(904, 532), ytx=526, xty=1021),
    "e": dict(top=(52.5, 374.7, 1068, 1149), sc=(49, 368, 1199, 1498), yr=(0.02, 1.49), yt=[0.5, 1],
              letter=(409, 1083), ytx=15, xty=1533),
    "f": dict(top=(560, 883, 1092, 1147), sc=(560, 880, 1208, 1504), yr=(0, 1), yt=[0, 0.5, 1],
              letter=(911, 1109), ytx=531, xty=1538),
}


def fmt(v):
    return "%g" % v


def nm(n):
    return "" if n == 1 else str(n)


def xd(l, r):
    return [l / W, r / W]


def yd(t, b):
    return [1 - b / H, 1 - t / H]


fig = go.Figure()
layout = dict(width=W, height=H, margin=dict(l=0, r=0, t=0, b=0), showlegend=False,
              plot_bgcolor="white", paper_bgcolor="white", font=dict(family=FONT, color="#111"))
annotations = []

AX_COMMON = dict(showline=True, linecolor="black", linewidth=1, ticks="outside", ticklen=4,
                 tickcolor="black", zeroline=False, tickfont=dict(family=FONT, size=10, color="#111"))

for i, p in enumerate(PANELS):
    g = GEOM[p["key"]]
    nt, ns = 2 * i + 1, 2 * i + 2
    xt, yt, xs, ys = "x" + nm(nt), "y" + nm(nt), "x" + nm(ns), "y" + nm(ns)

    # ---- top panel axes
    l, r, t, b = g["top"]
    layout["xaxis" + nm(nt)] = dict(AX_COMMON, domain=xd(l, r), anchor=yt, range=[-3, 3],
                                    tickvals=NAO_TICKS, ticktext=NAO_TEXT, mirror="ticks", showgrid=False)
    layout["yaxis" + nm(nt)] = dict(AX_COMMON, domain=yd(t, b), anchor=xt, range=list(g["yr"]),
                                    tickvals=g["yt"], ticktext=[fmt(v) for v in g["yt"]],
                                    mirror="ticks", showgrid=False)
    # ---- scatter panel axes
    l, r, t, b = g["sc"]
    layout["xaxis" + nm(ns)] = dict(AX_COMMON, domain=xd(l, r), anchor=ys, range=[-3, 3],
                                    tickvals=NAO_TICKS, ticktext=NAO_TEXT, mirror="ticks",
                                    showgrid=True, gridcolor="black", gridwidth=1)
    layout["yaxis" + nm(ns)] = dict(AX_COMMON, domain=yd(t, b), anchor=xs, range=[-3, 3],
                                    tickvals=NAO_TICKS, ticktext=NAO_TEXT, mirror="ticks",
                                    showgrid=True, gridcolor="black", gridwidth=1)

    # ---- top panel lines
    fig.add_trace(go.Scatter(x=p["tx"], y=p["thin"], mode="lines", xaxis=xt, yaxis=yt,
                             line=dict(color="black", width=1), hoverinfo="skip"))
    fig.add_trace(go.Scatter(x=p["tx"], y=p["thick"], mode="lines", xaxis=xt, yaxis=yt,
                             line=dict(color="black", width=5), hoverinfo="skip"))

    # ---- contours
    for c in p["cont"]:
        pts = [c[-1]] + c + [c[0], c[1]]
        fig.add_trace(go.Scatter(x=[q[0] for q in pts], y=[q[1] for q in pts], mode="lines",
                                 xaxis=xs, yaxis=ys, hoverinfo="skip",
                                 line=dict(color="black", width=6.5, shape="spline", smoothing=1.0)))
    # ---- regression & cubic fits
    fig.add_trace(go.Scatter(x=[q[0] for q in p["reg"]], y=[q[1] for q in p["reg"]], mode="lines",
                             xaxis=xs, yaxis=ys, line=dict(color="black", width=1.5), hoverinfo="skip"))
    fig.add_trace(go.Scatter(x=[q[0] for q in p["cub"]], y=[q[1] for q in p["cub"]], mode="lines",
                             xaxis=xs, yaxis=ys, line=dict(color="black", width=1.5, shape="spline"),
                             hoverinfo="skip"))
    # ---- points
    fig.add_trace(go.Scatter(x=[q[0] for q in p["opn"]], y=[q[1] for q in p["opn"]], mode="markers",
                             xaxis=xs, yaxis=ys, hoverinfo="skip",
                             marker=dict(symbol="circle", size=5.5, color="white",
                                         line=dict(color="black", width=1.3))))
    fig.add_trace(go.Scatter(x=[q[0] for q in p["fil"]], y=[q[1] for q in p["fil"]], mode="markers",
                             xaxis=xs, yaxis=ys, hoverinfo="skip",
                             marker=dict(symbol="circle", size=5.5, color="black",
                                         line=dict(color="black", width=0.5))))

    # ---- contour labels
    for (lx, ly, txt, ang) in p["labels"]:
        annotations.append(dict(x=lx, y=ly, xref=xs, yref=ys, text="<b>%s</b>" % txt, showarrow=False,
                                textangle=ang, bgcolor="white", borderpad=0,
                                font=dict(family=FONT, size=11, color="black")))

    # ---- titles
    sl, sr, st, sb = g["sc"]
    annotations.append(dict(x=((sl + sr) / 2) / W, y=1 - g["xty"] / H, xref="paper", yref="paper",
                            text="Gaussian NAO", showarrow=False, xanchor="center", yanchor="middle",
                            font=dict(family=FONT, size=14.5, color="#222")))
    annotations.append(dict(x=g["ytx"] / W, y=1 - ((st + sb) / 2) / H, xref="paper", yref="paper",
                            text=p["ylabel"], showarrow=False, textangle=-90, xanchor="center",
                            yanchor="middle", font=dict(family=FONT, size=13.5, color="#222")))
    annotations.append(dict(x=g["letter"][0] / W, y=1 - g["letter"][1] / H, xref="paper", yref="paper",
                            text=p["key"] + ")", showarrow=False, xanchor="center", yanchor="middle",
                            font=dict(family=FONT, size=38, color="black")))

layout["annotations"] = annotations
fig.update_layout(**layout)
fig.write_html("out.html")
